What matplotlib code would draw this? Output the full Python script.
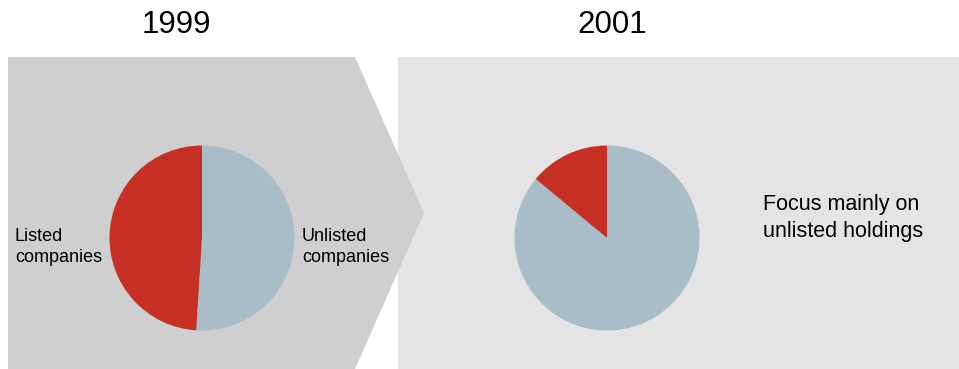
import matplotlib.pyplot as plt
from matplotlib.patches import Polygon, Rectangle

# portfolio split, share of holdings (%)
years = ["1999", "2001"]
segments = ["Unlisted companies", "Listed companies"]
share_1999 = [51, 49]
share_2001 = [86, 14]
seg_colors = ["#a8bdc8", "#c63024"]

W, H = 959, 369

plt.rcParams["font.family"] = ["Liberation Sans", "DejaVu Sans"]

fig = plt.figure(figsize=(W / 100, H / 100), dpi=100)
ax = fig.add_axes([0, 0, 1, 1])


def y(py):
    # pixel rows are counted from the top
    return H - py


# background panels: light box on the right, chevron on the left
ax.add_patch(Rectangle((398, y(369)), W - 398, 369 - 57, facecolor="#e4e4e4",
                       edgecolor="none", zorder=0))
chevron = [(8, y(57)), (355, y(57)), (424, y(213)), (355, y(369)), (8, y(369))]
ax.add_patch(Polygon(chevron, closed=True, facecolor="#cfcfcf",
                     edgecolor="none", zorder=1))

for vals, cx in [(share_1999, 202), (share_2001, 607)]:
    wedges, _ = ax.pie(vals, colors=seg_colors, startangle=90, counterclock=False,
                       center=(cx, y(238)), radius=92.5, frame=True,
                       wedgeprops=dict(linewidth=0))
    for w in wedges:
        w.set_zorder(2)

ax.text(176, y(25), years[0], fontsize=22.5, ha="center", va="center")
ax.text(612, y(25), years[1], fontsize=22.5, ha="center", va="center")

ax.text(15, y(247), "Listed\ncompanies", fontsize=13, ha="left", va="center",
        linespacing=1.3, zorder=3)
ax.text(302, y(247), "Unlisted\ncompanies", fontsize=13, ha="left", va="center",
        linespacing=1.3, zorder=3)
ax.text(763, y(218), "Focus mainly on\nunlisted holdings", fontsize=15.5,
        ha="left", va="center", linespacing=1.4, zorder=3)

ax.set_xlim(0, W)
ax.set_ylim(0, H)
ax.set_aspect("equal")
ax.axis("off")

fig.savefig("out.png", dpi=100)
